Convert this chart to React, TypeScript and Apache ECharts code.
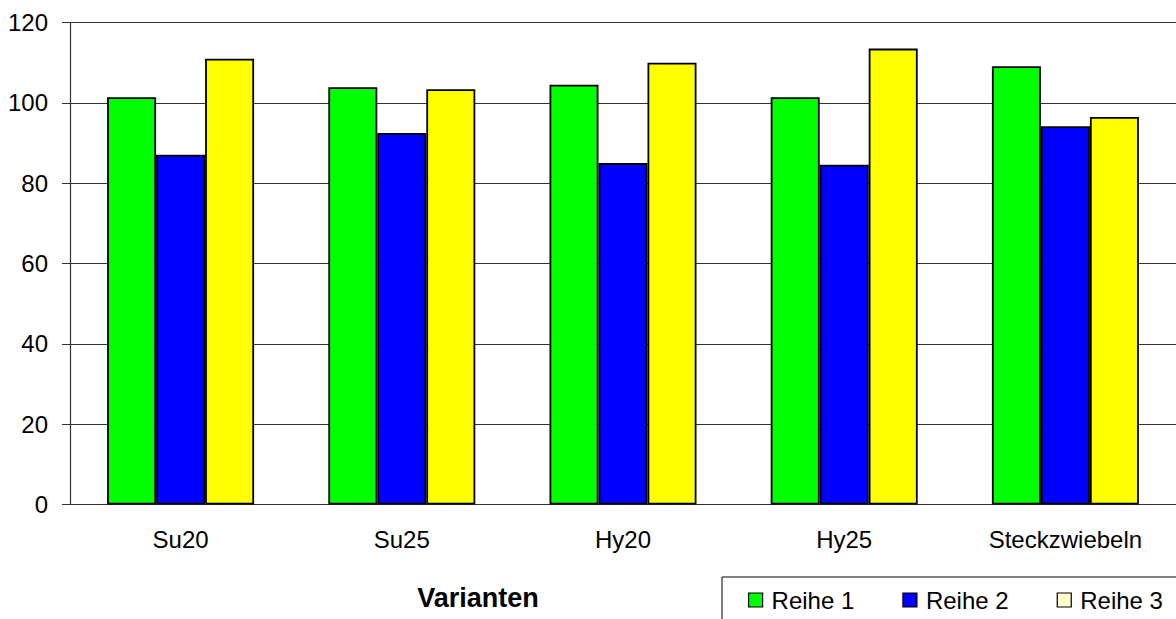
import React, { useEffect, useRef } from "react";
import * as echarts from "echarts";

const categories = ["Su20", "Su25", "Hy20", "Hy25", "Steckzwiebeln"];
const reihe1 = [101.4, 103.9, 104.5, 101.4, 109.1];
const reihe2 = [87.1, 92.5, 85.0, 84.6, 94.2];
const reihe3 = [111.0, 103.4, 110.0, 113.5, 96.5];
const seriesNames = ["Reihe 1", "Reihe 2", "Reihe 3"];
const yTicks = { min: 0, max: 120, interval: 20 };
const axisTitle = "Varianten";

const FONT = '"Liberation Sans", Arial, sans-serif';

export default function App() {
  const ref = useRef<HTMLDivElement>(null);
  useEffect(() => {
    if (!ref.current) return;
    const chart = echarts.init(ref.current, undefined, { renderer: "svg" });
    const barStyle = (color: string) => ({
      color,
      borderColor: "#000",
      borderWidth: 1.8,
    });
    chart.setOption({
      animation: false,
      backgroundColor: "#fff",
      textStyle: { fontFamily: FONT },
      grid: { left: 70, right: -3, top: 22.5, bottom: 114.5, containLabel: false },
      xAxis: {
        type: "category",
        data: categories,
        boundaryGap: true,
        axisLine: { lineStyle: { color: "#333", width: 1.2 } },
        axisTick: { length: 8, lineStyle: { color: "#333" } },
        axisLabel: { color: "#000", fontSize: 24, fontFamily: FONT, margin: 23 },
      },
      yAxis: {
        type: "value",
        min: yTicks.min,
        max: yTicks.max,
        interval: yTicks.interval,
        axisLine: { show: true, lineStyle: { color: "#333", width: 1.2 } },
        axisTick: { show: true, length: 8, lineStyle: { color: "#333" } },
        axisLabel: { color: "#000", fontSize: 24, fontFamily: FONT, margin: 22 },
        splitLine: { show: true, lineStyle: { color: "#333", width: 1 } },
      },
      legend: {
        left: 748,
        top: 588,
        padding: 0,
        itemWidth: 14,
        itemHeight: 14,
        itemGap: 48,
        icon: "rect",
        textStyle: { fontSize: 24, color: "#000", fontFamily: FONT, padding: [0, 0, 0, 4] },
        data: [
          { name: seriesNames[0], itemStyle: { color: "#00ff00", borderColor: "#000", borderWidth: 1.2 } },
          { name: seriesNames[1], itemStyle: { color: "#0000ff", borderColor: "#000", borderWidth: 1.2 } },
          { name: seriesNames[2], itemStyle: { color: "#ffffcc", borderColor: "#000", borderWidth: 1.2 } },
        ],
      },
      graphic: [
        {
          type: "rect",
          shape: { x: 722, y: 577, width: 470, height: 60 },
          style: { fill: "#fff", stroke: "#000", lineWidth: 1 },
          z: 0,
        },
        {
          type: "text",
          x: 478,
          y: 584.5,
          style: {
            text: axisTitle,
            fontSize: 27,
            fontWeight: "bold",
            fontFamily: FONT,
            fill: "#000",
            align: "center",
            verticalAlign: "top",
          },
        },
      ],
      series: [
        { name: seriesNames[0], type: "bar", data: reihe1, barWidth: 49, barGap: "0%", itemStyle: barStyle("#00ff00") },
        { name: seriesNames[1], type: "bar", data: reihe2, barWidth: 49, barGap: "0%", itemStyle: barStyle("#0000ff") },
        { name: seriesNames[2], type: "bar", data: reihe3, barWidth: 49, barGap: "0%", itemStyle: barStyle("#ffff00") },
      ],
    });
    return () => chart.dispose();
  }, []);
  return (
    <div
      ref={ref}
      style={{ position: "fixed", left: 0, top: 0, width: 1176, height: 619, background: "#fff" }}
    />
  );
}
